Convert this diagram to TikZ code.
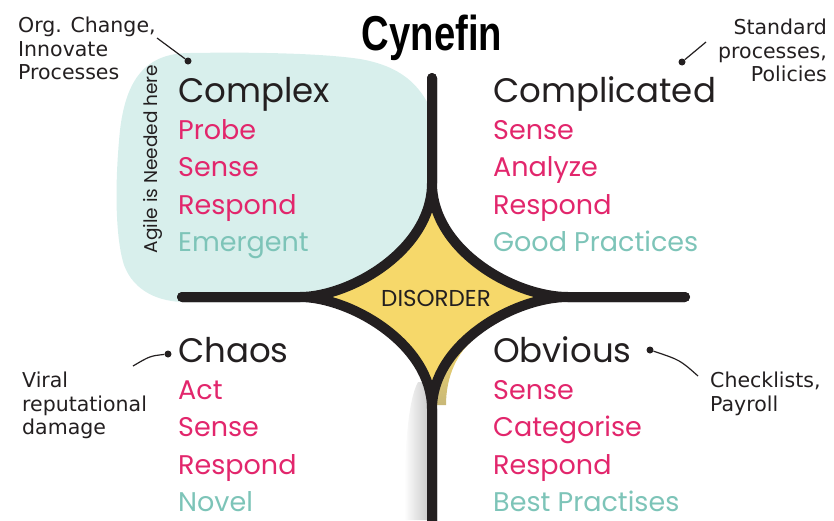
\documentclass[tikz,border=0pt]{standalone}
\usepackage{fontspec}
\setmainfont{Poppins}
\newfontfamily\handfont{DejaVu Sans}
\newfontfamily\titlefont{Liberation Sans}
\definecolor{darkt}{RGB}{35,31,32}
\definecolor{pinkc}{RGB}{226,38,108}
\definecolor{tealt}{RGB}{125,196,184}
\definecolor{blobc}{RGB}{216,239,236}
\definecolor{starc}{RGB}{246,216,106}
\definecolor{tanc}{RGB}{200,184,120}
\tikzset{
  head/.style={anchor=base west, inner sep=0pt, text=darkt, font=\fontsize{34}{34}\selectfont},
  item/.style={anchor=base west, inner sep=0pt, text=pinkc, font=\fontsize{27}{27}\selectfont},
  result/.style={item, text=tealt},
  note/.style={inner sep=0pt, text=darkt, font=\handfont\fontsize{20.5}{23.5}\selectfont},
  boundary/.style={line width=10pt, line cap=round, line join=round, darkt},
  notedot/.style={circle, fill=darkt, inner sep=0pt, minimum size=7pt},
  noteline/.style={line width=1.2pt, darkt}
}
\begin{document}
\begin{tikzpicture}[x=1pt,y=-1pt]
\useasboundingbox (0,0) rectangle (834,520);
% teal blob
\fill[blobc] (185,302) -- (432,302) -- (432,112) .. controls (420,84) and (400,66) .. (360,59)
  .. controls (320,53) and (250,52) .. (190,53) .. controls (145,53) and (126,80) .. (120,130) .. controls (114,190) and (116,240) .. (124,265)
  .. controls (134,292) and (160,302) .. (185,302) -- cycle;
% shadow left of lower stem
\shade[left color=white, right color=black!22] (404,520) .. controls (404,450) and (408,400) .. (418,382) -- (430,382) -- (430,520) -- cycle;
% star
\fill[starc] (432,183) .. controls (432,250) and (350,297) .. (300,297)
  .. controls (350,297) and (432,344) .. (432,409)
  .. controls (432,344) and (514,297) .. (568,297)
  .. controls (514,297) and (432,250) .. (432,183) -- cycle;
\shade[top color=starc, bottom color=tanc] (466,336) .. controls (448,348) and (438,365) .. (436,405) -- (446,405) .. controls (446,375) and (458,352) .. (475,338) -- cycle;
% boundaries
\coordinate (top) at (432,78);
\coordinate (bot) at (432,525);
\coordinate (lft) at (182,297);
\coordinate (rgt) at (685,297);
\draw[boundary] (top) -- (432,183) .. controls (432,250) and (350,297) .. (300,297) -- (lft);
\draw[boundary] (top) -- (432,183) .. controls (432,250) and (514,297) .. (568,297) -- (rgt);
\draw[boundary] (lft) -- (300,297) .. controls (350,297) and (432,344) .. (432,409) -- (bot);
\draw[boundary] (rgt) -- (568,297) .. controls (514,297) and (432,344) .. (432,409) -- (bot);
% title
\node[inner sep=0pt, anchor=base, text=black] (title) at (432,50) {\scalebox{0.78}[1]{\titlefont\bfseries\fontsize{49}{49}\selectfont Cynefin}};
\node[inner sep=0pt, text=darkt, font=\fontsize{23}{23}\selectfont] (dis) at (436,298) {DISORDER};
% complex
\node[head] (cx) at (178,102) {Complex};
\node[item] (cx1) at (178,139) {Probe};
\node[item] (cx2) at (178,176.5) {Sense};
\node[item] (cx3) at (178,214) {Respond};
\node[result] (cx4) at (178,251.5) {Emergent};
% complicated
\node[head] (cd) at (493,102) {Complicated};
\node[item] (cd1) at (493,139) {Sense};
\node[item] (cd2) at (493,176.5) {Analyze};
\node[item] (cd3) at (493,214) {Respond};
\node[result] (cd4) at (493,251.5) {Good Practices};
% chaos
\node[head] (ch) at (178,362) {Chaos};
\node[item] (ch1) at (178,399) {Act};
\node[item] (ch2) at (178,436.5) {Sense};
\node[item] (ch3) at (178,474) {Respond};
\node[result] (ch4) at (178,511.5) {Novel};
% obvious
\node[head] (ob) at (493,362) {Obvious};
\node[item] (ob1) at (493,399) {Sense};
\node[item] (ob2) at (493,436.5) {Categorise};
\node[item] (ob3) at (493,474) {Respond};
\node[result] (ob4) at (493,511.5) {Best Practises};
% agile
\node[rotate=90, inner sep=0pt, text=darkt, font=\fontsize{18.5}{18.5}\selectfont] (agile) at (153,159) {Agile is Needed here};
% annotations
\node[note, anchor=north west, align=left] (n1) at (18,17) {Org. Change,\\Innovate\\Processes};
\node[notedot] (d1) at (188,61) {};
\coordinate (e1) at (157,38);
\draw[noteline] (d1) -- (e1);
\node[note, anchor=north east, align=right] (n2) at (827,19) {Standard\\processes,\\Policies};
\node[notedot] (d2) at (682,62) {};
\coordinate (e2) at (706,42);
\draw[noteline] (d2) -- (e2);
\node[note, anchor=north west, align=left] (n3) at (22,372) {Viral\\reputational\\damage};
\node[notedot] (d3) at (168,354) {};
\coordinate (e3) at (133,366);
\draw[noteline] (d3) .. controls (150,356) .. (e3);
\node[note, anchor=north west, align=left] (n4) at (710,372) {Checklists,\\Payroll};
\node[notedot] (d4) at (650,350) {};
\coordinate (e4) at (698,376);
\draw[noteline] (d4) .. controls (680,360) .. (e4);
\end{tikzpicture}
\end{document}
